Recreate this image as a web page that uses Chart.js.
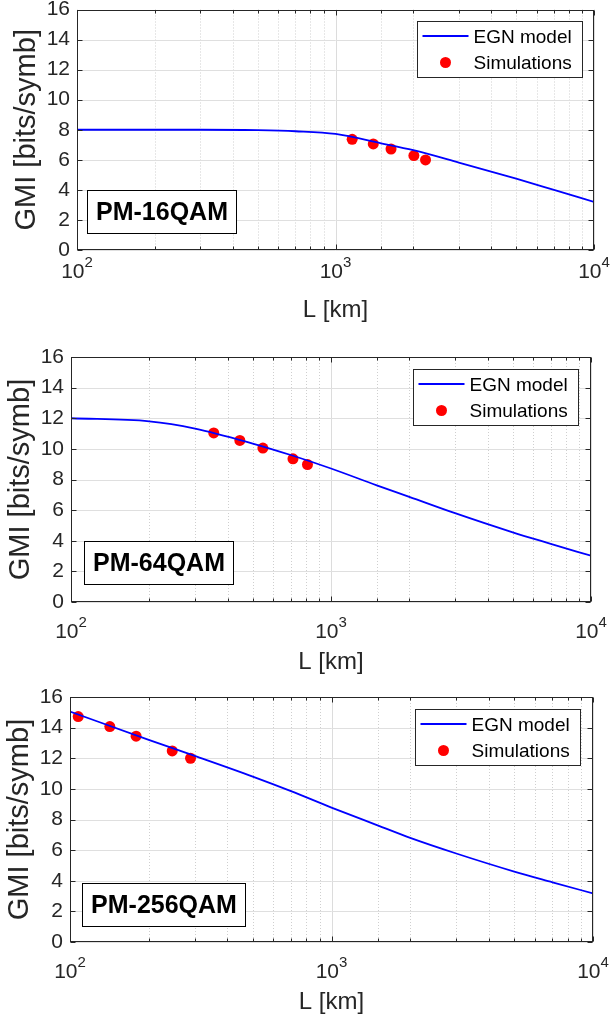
<!DOCTYPE html>
<html>
<head>
<meta charset="utf-8">
<script src="https://cdn.jsdelivr.net/npm/chart.js@4.4.1/dist/chart.umd.min.js"></script>
<style>
  html, body { margin: 0; padding: 0; background: #fff; width: 611px; height: 1021px; overflow: hidden; }
  canvas { position: absolute; left: 0; }
</style>
</head>
<body>
<canvas id="p16" width="611" height="329" style="top:0px"></canvas>
<canvas id="p64" width="611" height="336" style="top:345px"></canvas>
<canvas id="p256" width="611" height="336" style="top:685px"></canvas>
<script>
// ---------- data ----------
const distKm = [100, 200, 300, 500, 700, 1000, 1500, 2000, 3000, 5000, 7000, 10000];
const egn16  = [8.0, 8.0, 8.0, 7.97, 7.9, 7.72, 7.1, 6.64, 5.82, 4.75, 4.0, 3.2];
const egn64  = [12.0, 11.8, 11.33, 10.35, 9.6, 8.72, 7.62, 6.87, 5.8, 4.55, 3.8, 3.02];
const egn256 = [15.05, 13.2, 12.15, 10.8, 9.85, 8.78, 7.62, 6.8, 5.78, 4.6, 3.9, 3.17];

const sim16L  = [1160, 1400, 1640, 2010, 2230];
const sim16G  = [7.36, 7.06, 6.72, 6.28, 5.99];
const sim64L  = [354, 446, 547, 714, 812];
const sim64G  = [11.04, 10.55, 10.05, 9.35, 8.98];
const sim256L = [107.5, 142, 179, 246, 289];
const sim256G = [14.72, 14.07, 13.44, 12.48, 12.0];

const decadeTicks = [100, 1000, 10000];
const decadeExp = ['2', '3', '4'];
const seriesNames = ['EGN model', 'Simulations'];

// ---------- styling ----------
const FONT = "'Liberation Sans', Arial, Helvetica, sans-serif";
const AXIS = '#262626';

const panels = [
    { id: 'p16', egn: egn16, simL: sim16L, simG: sim16G, name: 'PM-16QAM',
      padTop: 9.5, padRight: 17, yAxisW: 77, tickDy: 22, boxDx: 10, boxDy: 17, legDx: 12, legDy: 11 },
    { id: 'p64', egn: egn64, simL: sim64L, simG: sim64G, name: 'PM-64QAM',
      padTop: 12, padRight: 20, yAxisW: 71, tickDy: 30, boxDx: 13, boxDy: 18, legDx: 13.5, legDy: 12.3 },
    { id: 'p256', egn: egn256, simL: sim256L, simG: sim256G, name: 'PM-256QAM',
      padTop: 12, padRight: 18, yAxisW: 70, tickDy: 30, boxDx: 12, boxDy: 16, legDx: 13, legDy: 12.3 }
];

function isDecade(v) {
    const l = Math.log10(v);
    return Math.abs(l - Math.round(l)) < 1e-9;
}

function seg(ctx, x1, y1, x2, y2) {
    ctx.beginPath();
    ctx.moveTo(x1, y1);
    ctx.lineTo(x2, y2);
    ctx.stroke();
}

// grid, box, inward ticks, legend and the label box
const frame = {
    id: 'frame',
    beforeDatasetsDraw(chart) {
        const { ctx, chartArea: a, scales: { x, y } } = chart;
        ctx.save();
        ctx.lineWidth = 1;
        x.ticks.forEach(t => {
            const px = Math.round(x.getPixelForValue(t.value)) + 0.5;
            if (isDecade(t.value)) {
                ctx.setLineDash([]);
                ctx.strokeStyle = '#dcdcdc';
            } else {
                ctx.setLineDash([1, 2]);
                ctx.strokeStyle = '#cfcfcf';
            }
            seg(ctx, px, a.top, px, a.bottom);
        });
        ctx.setLineDash([]);
        ctx.strokeStyle = '#dfdfdf';
        y.ticks.forEach(t => {
            const py = Math.round(y.getPixelForValue(t.value)) + 0.5;
            seg(ctx, a.left, py, a.right, py);
        });
        ctx.restore();
    },
    afterDatasetsDraw(chart, args, opts) {
        const { ctx, chartArea: a, scales: { x, y } } = chart;
        const L = Math.round(a.left) + 0.5, R = Math.round(a.right) - 0.5;
        const T = Math.round(a.top) + 0.5, B = Math.round(a.bottom) - 0.5;
        ctx.save();
        ctx.strokeStyle = AXIS;
        ctx.lineWidth = 1;
        ctx.strokeRect(L, T, R - L, B - T);

        y.ticks.forEach(t => {
            const py = Math.round(y.getPixelForValue(t.value)) + 0.5;
            seg(ctx, L, py, L + 5, py);
            seg(ctx, R, py, R - 5, py);
        });
        x.ticks.forEach(t => {
            const px = Math.round(x.getPixelForValue(t.value)) + 0.5;
            const len = isDecade(t.value) ? 5 : 3;
            seg(ctx, px, B, px, B - len);
            seg(ctx, px, T, px, T + len);
        });

        // x tick labels 10^n
        ctx.fillStyle = AXIS;
        ctx.textBaseline = 'middle';
        ctx.textAlign = 'left';
        decadeTicks.forEach((v, i) => {
            const px = x.getPixelForValue(v);
            ctx.font = '21px ' + FONT;
            const w1 = ctx.measureText('10').width;
            ctx.font = '15px ' + FONT;
            const w2 = ctx.measureText(decadeExp[i]).width;
            const sx = px - (w1 + w2) / 2;
            const ty = a.bottom + opts.tickDy;
            ctx.font = '21px ' + FONT;
            ctx.fillText('10', sx, ty);
            ctx.font = '15px ' + FONT;
            ctx.fillText(decadeExp[i], sx + w1, ty - 9);
        });

        // modulation label box
        ctx.font = 'bold 25px ' + FONT;
        const tw = ctx.measureText(opts.name).width;
        const bw = Math.round(tw + 17), bh = 43;
        const bx = Math.round(a.left + opts.boxDx) + 0.5;
        const by = Math.round(a.bottom - opts.boxDy - bh) + 0.5;
        ctx.fillStyle = '#fff';
        ctx.fillRect(bx, by, bw, bh);
        ctx.strokeStyle = '#000';
        ctx.strokeRect(bx, by, bw, bh);
        ctx.fillStyle = '#000';
        ctx.textAlign = 'center';
        ctx.fillText(opts.name, bx + bw / 2, by + bh / 2 + 1);

        // legend
        const lw = 165, lh = 56;
        const lx = Math.round(a.right - opts.legDx - lw) + 0.5;
        const ly = Math.round(a.top + opts.legDy) + 0.5;
        ctx.fillStyle = '#fff';
        ctx.fillRect(lx, ly, lw, lh);
        ctx.strokeStyle = AXIS;
        ctx.strokeRect(lx, ly, lw, lh);
        ctx.strokeStyle = '#0000ff';
        ctx.lineWidth = 1.8;
        seg(ctx, lx + 5, ly + 14.5, lx + 51, ly + 14.5);
        ctx.fillStyle = '#ff0000';
        ctx.beginPath();
        ctx.arc(lx + 28, ly + 41, 5.5, 0, Math.PI * 2);
        ctx.fill();
        ctx.fillStyle = '#000';
        ctx.textAlign = 'left';
        ctx.font = '19px ' + FONT;
        ctx.fillText(seriesNames[0], lx + 56, ly + 16);
        ctx.fillText(seriesNames[1], lx + 56, ly + 42);
        ctx.restore();
    }
};

function buildPanel(p) {
    const ctx = document.getElementById(p.id);
    return new Chart(ctx, {
        type: 'line',
        data: {
            datasets: [{
                label: seriesNames[0],
                data: distKm.map((d, i) => ({ x: d, y: p.egn[i] })),
                borderColor: '#0000ff',
                borderWidth: 1.8,
                pointRadius: 0,
                cubicInterpolationMode: 'monotone',
                fill: false
            }, {
                label: seriesNames[1],
                data: p.simL.map((d, i) => ({ x: d, y: p.simG[i] })),
                showLine: false,
                pointRadius: 5.5,
                pointBorderWidth: 0,
                pointBackgroundColor: '#ff0000',
                borderColor: '#ff0000'
            }]
        },
        options: {
            responsive: false,
            animation: false,
            layout: { padding: { top: p.padTop, right: p.padRight, left: 0, bottom: 0 } },
            plugins: {
                legend: { display: false },
                tooltip: { enabled: false },
                frame: p
            },
            scales: {
                x: {
                    type: 'logarithmic',
                    min: 100,
                    max: 10000,
                    grid: { display: false },
                    border: { display: false },
                    ticks: { display: false, autoSkip: false },
                    title: {
                        display: true,
                        text: 'L [km]',
                        color: AXIS,
                        font: { family: FONT, size: 24, lineHeight: 1 },
                        padding: { top: 0, bottom: 6.3 }
                    },
                    afterFit: s => { s.height = 79; s.paddingLeft = 0; s.paddingRight = 0; }
                },
                y: {
                    min: 0,
                    max: 16,
                    grid: { display: false, drawTicks: false },
                    border: { display: false },
                    ticks: {
                        stepSize: 2,
                        padding: 7,
                        color: AXIS,
                        font: { family: FONT, size: 21, lineHeight: 1 }
                    },
                    title: {
                        display: true,
                        text: 'GMI [bits/symb]',
                        color: AXIS,
                        font: { family: FONT, size: 29, lineHeight: 1 },
                        padding: { top: p.yAxisW - 50.5 - 14.5, bottom: 0 }
                    },
                    afterFit: s => { s.width = p.yAxisW; s.paddingTop = 0; s.paddingBottom = 0; }
                }
            }
        },
        plugins: [frame]
    });
}

panels.forEach(buildPanel);
</script>
</body>
</html>
